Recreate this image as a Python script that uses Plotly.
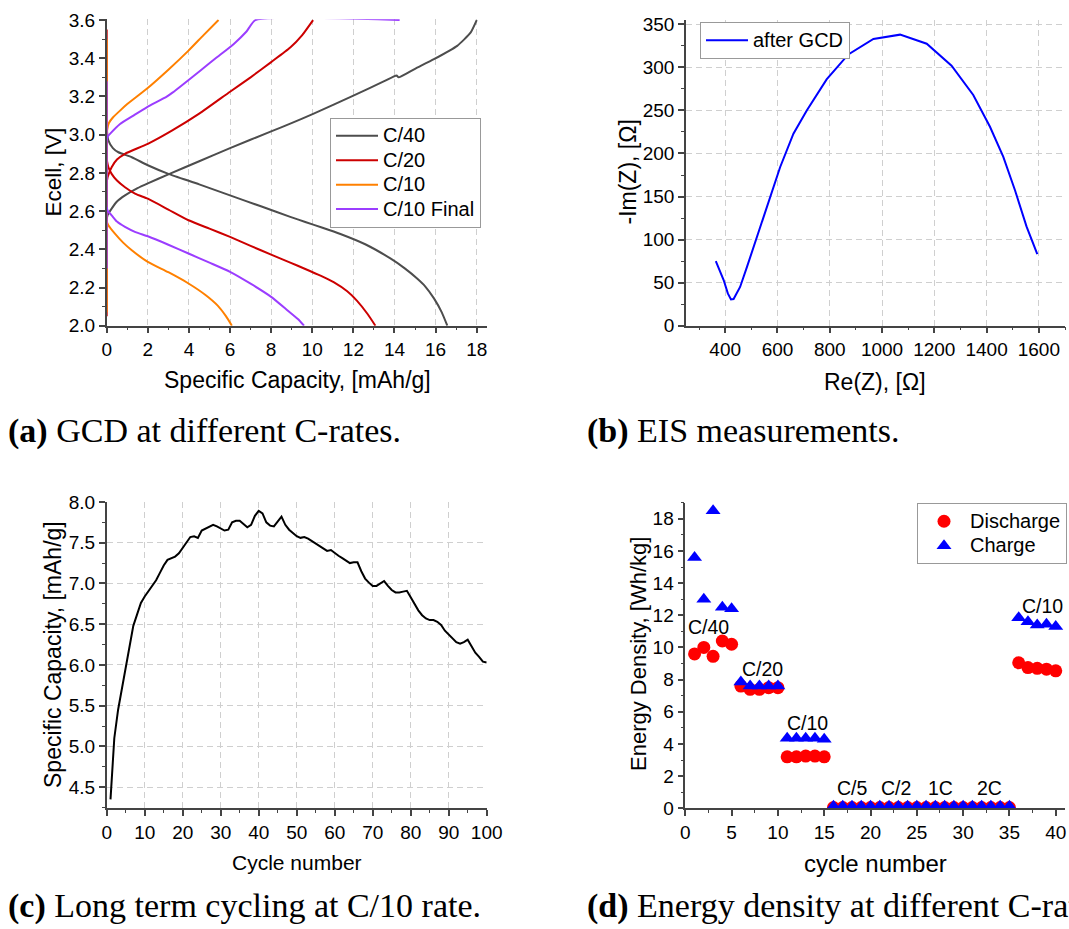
import plotly.graph_objects as go

W, H = 1069, 929

# ---------------- (a) GCD data ----------------
c40_chg_x = [0.0, 0.05, 0.24, 0.5, 0.89, 1.5, 2.0, 3.0, 4.5, 6.0, 8.0, 8.93, 10.07, 12.0, 13.5, 14.1, 14.2, 15.0, 15.92, 17.05, 17.7, 18.0]
c40_chg_v = [2.56, 2.58, 2.613, 2.65, 2.682, 2.72, 2.745, 2.792, 2.861, 2.93, 3.017, 3.058, 3.11, 3.204, 3.28, 3.31, 3.30, 3.345, 3.395, 3.465, 3.534, 3.60]
c40_dis_x = [0.0, 0.03, 0.08, 0.3, 0.57, 1.22, 2.0, 3.0, 4.5, 6.0, 7.5, 8.93, 9.66, 10.5, 11.37, 12.6, 13.8, 14.5, 15.1, 15.5, 15.92, 16.3, 16.57]
c40_dis_v = [3.05, 3.00, 2.97, 2.93, 2.908, 2.882, 2.84, 2.795, 2.74, 2.682, 2.625, 2.57, 2.543, 2.513, 2.48, 2.425, 2.352, 2.30, 2.247, 2.205, 2.143, 2.07, 2.00]
c40_rest_v = [2.56, 3.05]

c20_chg_x = [0.0, 0.05, 0.24, 0.5, 0.89, 2.0, 3.17, 4.5, 6.0, 7.0, 8.0, 8.93, 9.5, 10.04]
c20_chg_v = [2.75, 2.78, 2.83, 2.87, 2.90, 2.952, 3.021, 3.11, 3.225, 3.30, 3.38, 3.456, 3.52, 3.60]
c20_dis_x = [0.0, 0.08, 0.24, 0.5, 0.89, 1.4, 2.0, 3.0, 3.98, 5.0, 6.0, 7.0, 8.0, 8.93, 9.66, 10.4, 11.04, 11.7, 12.18, 12.7, 13.07]
c20_dis_v = [2.87, 2.83, 2.795, 2.76, 2.725, 2.69, 2.665, 2.608, 2.552, 2.508, 2.465, 2.418, 2.372, 2.33, 2.297, 2.262, 2.228, 2.18, 2.13, 2.06, 2.00]
c20_rest_v = [2.05, 3.55]

c10_chg_x = [0.0, 0.03, 0.1, 0.3, 0.65, 1.0, 1.95, 3.0, 3.98, 4.7, 5.44]
c10_chg_v = [3.00, 3.03, 3.06, 3.09, 3.126, 3.16, 3.24, 3.34, 3.44, 3.52, 3.60]
c10_dis_x = [0.0, 0.02, 0.08, 0.4, 0.8, 1.22, 2.0, 3.0, 3.98, 4.79, 5.4, 5.8, 6.09]
c10_dis_v = [2.55, 2.54, 2.526, 2.482, 2.435, 2.395, 2.334, 2.28, 2.221, 2.162, 2.105, 2.05, 2.00]
c10_rest_v = [2.07, 3.50]

c10f_chg_x = [0.0, 0.05, 0.16, 0.65, 1.3, 1.95, 2.92, 3.2, 4.55, 5.3, 6.17, 6.8, 7.23, 14.25]
c10f_chg_v = [2.97, 2.99, 3.004, 3.056, 3.10, 3.143, 3.199, 3.22, 3.335, 3.40, 3.474, 3.54, 3.60, 3.60]
c10f_dis_x = [0.0, 0.05, 0.24, 0.5, 0.89, 1.4, 2.0, 3.0, 3.98, 5.0, 6.0, 7.0, 8.0, 8.8, 9.3, 9.6]
c10f_dis_v = [2.62, 2.60, 2.578, 2.545, 2.517, 2.49, 2.468, 2.424, 2.378, 2.33, 2.282, 2.22, 2.151, 2.08, 2.035, 2.00]
c10f_rest_v = [2.30, 3.28]

gcd_names = ["C/40", "C/20", "C/10", "C/10 Final"]
gcd_colors = ["#4d4d4d", "#cc0000", "#ff8000", "#9b3dff"]

# ---------------- (b) EIS data ----------------
re_z = [364, 394, 410, 422, 432, 457, 483, 534, 572, 610, 661, 712, 788, 871, 967, 1069, 1171, 1266, 1349, 1413, 1464, 1509, 1553, 1594]
im_z = [75, 53, 37.5, 30.5, 31, 45, 68, 115, 150, 184, 223, 250, 286, 315, 333, 338, 327.5, 302, 268, 231, 196, 157, 115, 83]

# ---------------- (c) long-term cycling ----------------
cycles_c = list(range(1, 101))
cap_c = [4.35, 5.10, 5.45, 5.72, 5.95, 6.25, 6.48, 6.62, 6.76, 6.84,
         6.91, 6.97, 7.04, 7.13, 7.22, 7.29, 7.31, 7.33, 7.37, 7.44,
         7.51, 7.57, 7.58, 7.56, 7.65, 7.67, 7.70, 7.72, 7.70, 7.67,
         7.65, 7.66, 7.75, 7.77, 7.77, 7.73, 7.69, 7.72, 7.83, 7.89,
         7.86, 7.75, 7.71, 7.70, 7.76, 7.82, 7.72, 7.66, 7.62, 7.58,
         7.56, 7.57, 7.55, 7.52, 7.49, 7.47, 7.44, 7.40, 7.41, 7.37,
         7.34, 7.31, 7.28, 7.25, 7.26, 7.26, 7.15, 7.06, 7.01, 6.97,
         6.97, 7.00, 7.03, 6.97, 6.92, 6.89, 6.89, 6.90, 6.91, 6.83,
         6.74, 6.67, 6.61, 6.57, 6.55, 6.55, 6.53, 6.49, 6.42, 6.37,
         6.32, 6.28, 6.26, 6.28, 6.31, 6.22, 6.15, 6.10, 6.04, 6.03]

# ---------------- (d) energy density ----------------
cycles_d = list(range(1, 41))
discharge = [9.6, 10.0, 9.45, 10.4, 10.2,
             7.6, 7.4, 7.4, 7.5, 7.5,
             3.2, 3.2, 3.25, 3.25, 3.2] + [0.05] * 20 + [9.05, 8.75, 8.7, 8.65, 8.55]
charge = [15.6, 13.0, 18.5, 12.5, 12.4,
          7.85, 7.6, 7.6, 7.6, 7.6,
          4.35, 4.35, 4.35, 4.35, 4.3] + [0.12] * 20 + [11.85, 11.6, 11.4, 11.45, 11.3]
rate_labels = ["C/40", "C/20", "C/10", "C/5", "C/2", "1C", "2C", "C/10"]
rate_label_x = [2.5, 8.35, 13.2, 18.0, 22.8, 27.6, 32.8, 38.6]
rate_label_y = [11.3, 8.65, 5.3, 1.25, 1.25, 1.25, 1.25, 12.55]

# ---------------- figure ----------------
fig = go.Figure()
LEG_TXT = "<span style='font-size:20px'>{}</span>"

def gcd_trace(chg_x, chg_v, dis_x, dis_v, rest_v, name, color):
    xs = list(chg_x) + [None] + list(dis_x) + [None] + [0, 0]
    ys = list(chg_v) + [None] + list(dis_v) + [None] + list(rest_v)
    return go.Scatter(x=xs, y=ys, mode="lines", name=LEG_TXT.format(name),
                      line=dict(color=color, width=2, shape="spline", smoothing=0.5),
                      connectgaps=False, xaxis="x", yaxis="y", legend="legend")

series = [
    (c40_chg_x, c40_chg_v, c40_dis_x, c40_dis_v, c40_rest_v),
    (c20_chg_x, c20_chg_v, c20_dis_x, c20_dis_v, c20_rest_v),
    (c10_chg_x, c10_chg_v, c10_dis_x, c10_dis_v, c10_rest_v),
    (c10f_chg_x, c10f_chg_v, c10f_dis_x, c10f_dis_v, c10f_rest_v),
]
for s, n, c in zip(series, gcd_names, gcd_colors):
    fig.add_trace(gcd_trace(*s, n, c))

fig.add_trace(go.Scatter(x=re_z, y=im_z, mode="lines", name=LEG_TXT.format("after GCD"),
                         line=dict(color="#0000ff", width=2),
                         xaxis="x2", yaxis="y2", legend="legend2"))

fig.add_trace(go.Scatter(x=cycles_c, y=cap_c, mode="lines", showlegend=False,
                         line=dict(color="#000000", width=2),
                         xaxis="x3", yaxis="y3"))

fig.add_trace(go.Scatter(x=cycles_d, y=discharge, mode="markers", name=LEG_TXT.format("Discharge"),
                         marker=dict(symbol="circle", size=13, color="#ff0000"),
                         xaxis="x4", yaxis="y4", legend="legend3"))
fig.add_trace(go.Scatter(x=cycles_d, y=charge, mode="markers", name=LEG_TXT.format("Charge"),
                         marker=dict(symbol="triangle-up", size=13, color="#0000ff"),
                         xaxis="x4", yaxis="y4", legend="legend3"))

SANS = "Liberation Sans, Arial, sans-serif"
SERIF = "Liberation Serif, Times New Roman, serif"
AX = "#444444"
GRID = "#cfcfcf"
tickfont = dict(family=SANS, size=19, color="black")

def px_x(a, b):
    return [a / W, b / W]

def px_y(top, bottom):
    return [1 - bottom / H, 1 - top / H]

def axis(domain, rng, tick0, dtick, mdtick, anchor, showgrid, fmt=None):
    d = dict(domain=domain, range=rng, tick0=tick0, dtick=dtick, tickmode="linear",
             showline=True, linecolor=AX, linewidth=1.5, mirror=False,
             ticks="outside", ticklen=6, tickwidth=1.5, tickcolor=AX,
             tickfont=tickfont, zeroline=False, anchor=anchor,
             showgrid=showgrid, gridcolor=GRID, gridwidth=1, griddash="6px,4px",
             minor=dict(dtick=mdtick, ticks="outside", ticklen=3, tickwidth=1.2,
                        tickcolor=AX, showgrid=False))
    if fmt:
        d["tickformat"] = fmt
    return d

legend_common = dict(xanchor="left", yanchor="top", bgcolor="white",
                     bordercolor="#999999", borderwidth=1,
                     font=dict(family=SANS, size=16.5, color="black"),
                     itemwidth=42, tracegroupgap=0)

fig.update_layout(
    width=W, height=H, margin=dict(l=0, r=0, t=0, b=0, autoexpand=False),
    paper_bgcolor="white", plot_bgcolor="white",
    xaxis=axis(px_x(106.7, 487), [0, 18.5], 0, 2, 1, "y", True),
    yaxis=axis(px_y(19.3, 325.7), [2.0, 3.604], 2.0, 0.2, 0.1, "x", False, ".1f"),
    xaxis2=axis(px_x(686, 1065), [250, 1700], 400, 200, 100, "y2", True),
    yaxis2=axis(px_y(20, 325.7), [0, 355], 0, 50, 25, "x2", True),
    xaxis3=axis(px_x(106.7, 486.7), [0, 100], 0, 10, 5, "y3", True),
    yaxis3=axis(px_y(502, 808.3), [4.24, 8.0], 4.5, 0.5, 0.25, "x3", True, ".1f"),
    xaxis4=axis(px_x(685.3, 1065), [0, 41], 0, 5, 2.5, "y4", False),
    yaxis4=axis(px_y(502.7, 808.3), [0, 19], 0, 2, 1, "x4", False),
    legend=dict(x=330 / W, y=1 - 117.5 / H, **legend_common),
    legend2=dict(x=700 / W, y=1 - 22 / H, **legend_common),
    legend3=dict(x=917 / W, y=1 - 503 / H, **legend_common),
)

ann = []
def title_ann(text, x, y, size, angle=0):
    ann.append(dict(text=text, x=x / W, y=1 - y / H, xref="paper", yref="paper",
                    xanchor="center", yanchor="middle", showarrow=False, textangle=angle,
                    font=dict(family=SANS, size=size, color="black")))

title_ann("Specific Capacity, [mAh/g]", 297, 380, 23)
title_ann("Ecell, [V]", 53, 172.5, 22.5, -90)
title_ann("Re(Z), [Ω]", 875, 382, 23)
title_ann("-Im(Z), [Ω]", 627, 172.5, 23, -90)
title_ann("Cycle number", 297, 862, 21)
title_ann("Specific Capacity, [mAh/g]", 53, 655, 23, -90)
title_ann("cycle number", 875, 863, 24)
title_ann("Energy Density, [Wh/kg]", 638, 654, 22, -90)

for t, xv, yv in zip(rate_labels, rate_label_x, rate_label_y):
    ann.append(dict(text=t, x=xv, y=yv, xref="x4", yref="y4", showarrow=False,
                    xanchor="center", yanchor="middle",
                    font=dict(family=SANS, size=19.5, color="black")))

def caption(bold, text, x, y):
    ann.append(dict(text="<b>" + bold + "</b> " + text, x=x / W, y=1 - y / H,
                    xref="paper", yref="paper", xanchor="left", yanchor="middle",
                    showarrow=False, font=dict(family=SERIF, size=34, color="black")))

caption("(a)", "GCD at different C-rates.", 6, 431)
caption("(b)", "EIS measurements.", 585, 431)
caption("(c)", "Long term cycling at C/10 rate.", 6, 906)
caption("(d)", "Energy density at different C-rates.", 585, 906)

fig.update_layout(annotations=ann)
fig.write_html("out.html")
